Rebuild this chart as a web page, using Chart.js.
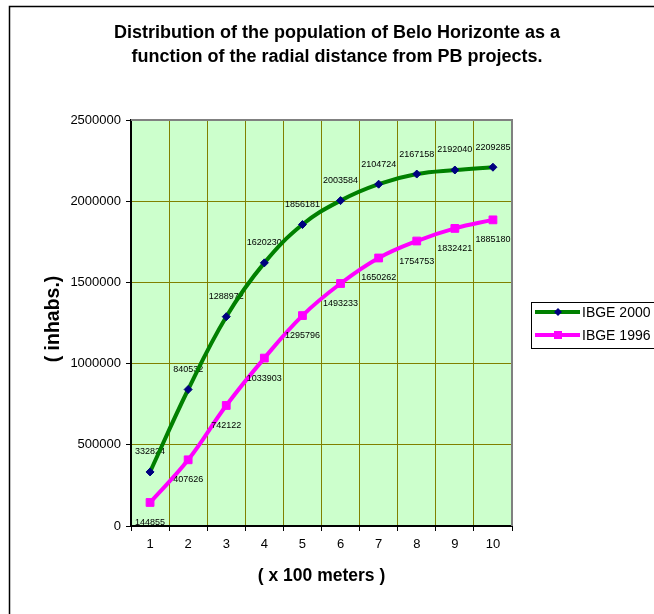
<!DOCTYPE html>
<html>
<head>
<meta charset="utf-8">
<script src="https://cdn.jsdelivr.net/npm/chart.js@4.4.1/dist/chart.umd.min.js"></script>
<style>
  html, body { margin: 0; padding: 0; background: #ffffff; }
  #wrap { width: 654px; height: 614px; position: relative; }
  canvas { display: block; }
</style>
</head>
<body>
<div id="wrap"><canvas id="c" width="654" height="614"></canvas></div>
<script>
const titleLines = ['Distribution of the population of Belo Horizonte as a', 'function of the radial distance from PB projects.'];
const xTitle = '( x 100 meters )';
const yTitle = '( inhabs.)';
const categories = ['1', '2', '3', '4', '5', '6', '7', '8', '9', '10'];
const seriesNames = ['IBGE 2000', 'IBGE 1996'];
const ibge2000 = [332824, 840532, 1288972, 1620230, 1856181, 2003584, 2104724, 2167158, 2192040, 2209285];
const ibge1996 = [144855, 407626, 742122, 1033903, 1295796, 1493233, 1650262, 1754753, 1832421, 1885180];
const yMin = 0, yMax = 2500000, yStep = 500000;

const FONT = '"Liberation Sans", Arial, sans-serif';

function drawLabels(chart, idx) {
  const ctx = chart.ctx;
  ctx.save();
  ctx.font = '9px ' + FONT;
  ctx.fillStyle = '#000000';
  ctx.textAlign = 'center';
  ctx.textBaseline = 'middle';
  const ds = chart.data.datasets[idx];
  const meta = chart.getDatasetMeta(idx);
  const dy = idx === 0 ? -20 : 20;
  meta.data.forEach((pt, j) => {
    ctx.fillText(String(ds.data[j]), pt.x, pt.y + dy);
  });
  ctx.restore();
}

const decorPlugin = {
  id: 'decor',
  beforeDraw(chart) {
    const ctx = chart.ctx;
    const a = chart.chartArea;
    ctx.save();
    ctx.fillStyle = '#ffffff';
    ctx.fillRect(0, 0, chart.width, chart.height);
    ctx.strokeStyle = '#000000';
    ctx.lineWidth = 1.5;
    ctx.strokeRect(9.5, 6.5, 700, 700);
    ctx.fillStyle = '#CCFFCC';
    ctx.fillRect(a.left, a.top, a.right - a.left, a.bottom - a.top);
    ctx.restore();
  },
  beforeDatasetsDraw(chart) {
    const ctx = chart.ctx;
    const a = chart.chartArea;
    ctx.save();
    ctx.strokeStyle = '#808080';
    ctx.lineWidth = 2;
    ctx.beginPath();
    ctx.moveTo(a.left, a.top);
    ctx.lineTo(a.right, a.top);
    ctx.lineTo(a.right, a.bottom);
    ctx.stroke();
    ctx.restore();
    drawLabels(chart, 0);
  },
  afterDatasetsDraw(chart) {
    drawLabels(chart, 1);
  },
  afterDraw(chart) {
    const ctx = chart.ctx;
    const a = chart.chartArea;
    ctx.save();
    ctx.fillStyle = '#000000';
    ctx.textAlign = 'center';
    ctx.textBaseline = 'middle';
    ctx.font = 'bold 18px ' + FONT;
    ctx.fillText(titleLines[0], 337, 33);
    ctx.fillText(titleLines[1], 337, 57);
    ctx.font = 'bold 17.5px ' + FONT;
    ctx.fillText(xTitle, (a.left + a.right) / 2, 576);
    ctx.save();
    ctx.translate(54, 319);
    ctx.rotate(-Math.PI / 2);
    ctx.font = 'bold 19.5px ' + FONT;
    ctx.fillText(yTitle, 0, 0);
    ctx.restore();
    ctx.strokeStyle = '#000000';
    ctx.lineWidth = 1;
    ctx.strokeRect(531.5, 302.5, 140, 46);
    const rows = [312, 335];
    chart.data.datasets.forEach((ds, i) => {
      const y = rows[i];
      ctx.strokeStyle = ds.borderColor;
      ctx.lineWidth = 4;
      ctx.beginPath();
      ctx.moveTo(535, y);
      ctx.lineTo(580, y);
      ctx.stroke();
      ctx.fillStyle = ds.pointBackgroundColor;
      if (i === 0) {
        ctx.beginPath();
        ctx.moveTo(558, y - 4);
        ctx.lineTo(562, y);
        ctx.lineTo(558, y + 4);
        ctx.lineTo(554, y);
        ctx.closePath();
        ctx.fill();
      } else {
        ctx.fillRect(554, y - 4, 8, 8);
      }
      ctx.fillStyle = '#000000';
      ctx.font = '14px ' + FONT;
      ctx.textAlign = 'left';
      ctx.fillText(seriesNames[i], 582, y + 1);
    });
    ctx.restore();
  }
};

new Chart(document.getElementById('c'), {
  type: 'line',
  data: {
    labels: categories,
    datasets: [
      {
        label: seriesNames[0],
        data: ibge2000,
        borderColor: '#008000',
        borderWidth: 4,
        tension: 0.4,
        pointStyle: 'rectRot',
        pointRadius: 4,
        pointBackgroundColor: '#000080',
        pointBorderColor: '#000080',
        pointBorderWidth: 1,
        fill: false
      },
      {
        label: seriesNames[1],
        data: ibge1996,
        borderColor: '#FF00FF',
        borderWidth: 4,
        tension: 0.4,
        pointStyle: 'rect',
        pointRadius: 5.5,
        pointBackgroundColor: '#FF00FF',
        pointBorderColor: '#FF00FF',
        pointBorderWidth: 1,
        fill: false
      }
    ]
  },
  options: {
    responsive: false,
    animation: false,
    devicePixelRatio: 1,
    layout: { padding: { top: 120, right: 142, left: 0, bottom: 0 } },
    plugins: {
      legend: { display: false },
      title: { display: false },
      tooltip: { enabled: false }
    },
    scales: {
      x: {
        offset: true,
        grid: {
          offset: true,
          color: '#808000',
          lineWidth: 1,
          drawTicks: true,
          tickLength: 5,
          tickColor: '#000000'
        },
        border: { display: true, color: '#000000', width: 2 },
        ticks: {
          color: '#000000',
          font: { family: FONT, size: 13 },
          padding: 6,
          maxRotation: 0
        },
        afterFit(scale) { scale.height = 88; }
      },
      y: {
        min: yMin,
        max: yMax,
        grid: {
          color: '#808000',
          lineWidth: 1,
          drawTicks: true,
          tickLength: 5,
          tickColor: '#000000'
        },
        border: { display: true, color: '#000000', width: 2 },
        ticks: {
          stepSize: yStep,
          color: '#000000',
          font: { family: FONT, size: 13 },
          padding: 5,
          callback: (v) => String(v)
        },
        afterFit(scale) { scale.width = 131; }
      }
    }
  },
  plugins: [decorPlugin]
});
</script>
</body>
</html>
